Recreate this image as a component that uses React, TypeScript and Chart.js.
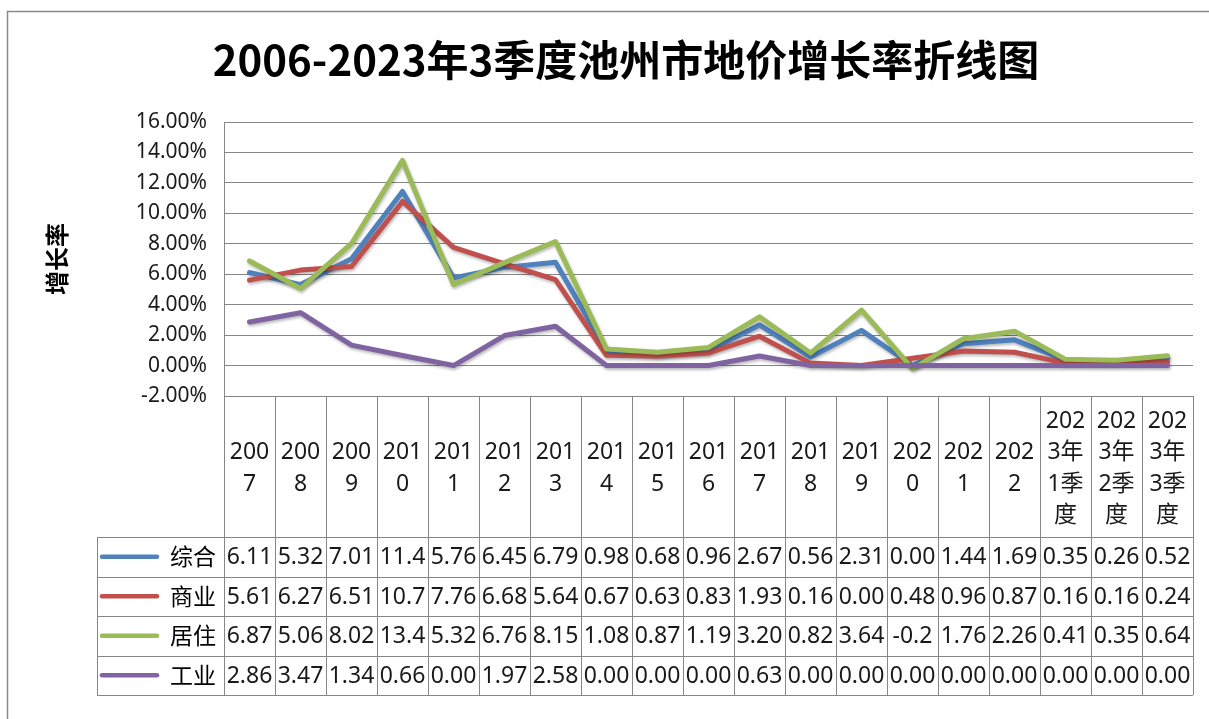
import React, { useEffect, useRef } from "react";
import { Chart, registerables } from "chart.js";

Chart.register(...registerables);

const TITLE = "2006-2023年3季度池州市地价增长率折线图";
const Y_TITLE = "增长率";

const categories = [
  "2007", "2008", "2009", "2010", "2011", "2012", "2013", "2014", "2015", "2016",
  "2017", "2018", "2019", "2020", "2021", "2022",
  "2023年1季度", "2023年2季度", "2023年3季度",
];

const seriesNames = ["综合", "商业", "居住", "工业"];

const zongHe = [6.11, 5.32, 7.01, 11.44, 5.76, 6.45, 6.79, 0.98, 0.68, 0.96, 2.67, 0.56, 2.31, 0.0, 1.44, 1.69, 0.35, 0.26, 0.52];
const shangYe = [5.61, 6.27, 6.51, 10.78, 7.76, 6.68, 5.64, 0.67, 0.63, 0.83, 1.93, 0.16, 0.0, 0.48, 0.96, 0.87, 0.16, 0.16, 0.24];
const juZhu = [6.87, 5.06, 8.02, 13.48, 5.32, 6.76, 8.15, 1.08, 0.87, 1.19, 3.2, 0.82, 3.64, -0.2, 1.76, 2.26, 0.41, 0.35, 0.64];
const gongYe = [2.86, 3.47, 1.34, 0.66, 0.0, 1.97, 2.58, 0.0, 0.0, 0.0, 0.63, 0.0, 0.0, 0.0, 0.0, 0.0, 0.0, 0.0, 0.0];

const seriesValues = [zongHe, shangYe, juZhu, gongYe];
const seriesColors = ["#4F81BD", "#C0504D", "#9BBB59", "#8064A2"];

const yMin = -2;
const yMax = 16;
const yStep = 2;

const LATIN = '"Noto Sans", "Noto Sans CJK SC", sans-serif';
const CJK = '"Noto Sans CJK SC", "Noto Sans", sans-serif';
const GRID = "#868686";

function cellText(v: number): string {
  return v.toFixed(2).slice(0, 4);
}

function wrapText(ctx: CanvasRenderingContext2D, text: string, maxW: number): string[] {
  const lines: string[] = [];
  let cur = "";
  for (const ch of Array.from(text)) {
    if (cur && ctx.measureText(cur + ch).width > maxW) {
      lines.push(cur);
      cur = ch;
    } else {
      cur += ch;
    }
  }
  if (cur) lines.push(cur);
  return lines;
}

const framePlugin = {
  id: "frame",
  beforeDraw(chart: any) {
    const { ctx, width, height } = chart;
    ctx.save();
    ctx.fillStyle = "#ffffff";
    ctx.fillRect(0, 0, width, height);
    ctx.strokeStyle = "#8a8a8a";
    ctx.lineWidth = 1.5;
    ctx.strokeRect(7.5, 11.5, width + 40, height + 40);
    ctx.restore();
  },
  afterDraw(chart: any) {
    const { ctx, chartArea } = chart;
    ctx.save();
    ctx.fillStyle = "#000000";
    ctx.font = `bold 42px ${CJK}`;
    ctx.textAlign = "center";
    ctx.textBaseline = "middle";
    ctx.fillText(TITLE, 626, 60);

    ctx.translate(57, (chartArea.top + chartArea.bottom) / 2);
    ctx.rotate(-Math.PI / 2);
    ctx.font = `bold 24px ${CJK}`;
    ctx.fillText(Y_TITLE, 0, 0);
    ctx.restore();
  },
};

const shadowPlugin = {
  id: "lineShadow",
  beforeDatasetDraw(chart: any) {
    const ctx = chart.ctx;
    ctx.save();
    ctx.shadowColor = "rgba(0,0,0,0.28)";
    ctx.shadowBlur = 3;
    ctx.shadowOffsetX = 1;
    ctx.shadowOffsetY = 2;
  },
  afterDatasetDraw(chart: any) {
    chart.ctx.restore();
  },
};

const tablePlugin = {
  id: "dataTable",
  afterDraw(chart: any) {
    const { ctx, chartArea, scales } = chart;
    const x = scales.x;
    const n = chart.data.labels.length;
    const step = x.getPixelForValue(1) - x.getPixelForValue(0);
    const left = x.getPixelForValue(0) - step / 2;
    const right = left + step * n;
    const top = chartArea.bottom;
    const headerBottom = top + 141;
    const rowH = 39.5;
    const legendLeft = 97;
    const datasets = chart.data.datasets;
    const tableBottom = headerBottom + rowH * datasets.length;

    ctx.save();
    ctx.strokeStyle = GRID;
    ctx.lineWidth = 1;
    ctx.beginPath();
    for (let i = 0; i <= n; i++) {
      const px = Math.round(left + step * i) + 0.5;
      ctx.moveTo(px, top);
      ctx.lineTo(px, tableBottom);
    }
    for (let k = 0; k <= datasets.length; k++) {
      const py = Math.round(headerBottom + rowH * k) + 0.5;
      ctx.moveTo(legendLeft, py);
      ctx.lineTo(right, py);
    }
    ctx.moveTo(legendLeft + 0.5, headerBottom);
    ctx.lineTo(legendLeft + 0.5, tableBottom);
    ctx.stroke();

    ctx.fillStyle = "#1a1a1a";
    ctx.textAlign = "center";
    ctx.textBaseline = "middle";
    ctx.font = `23px ${LATIN}`;
    const lineH = 31.5;
    const headerMid = (top + headerBottom) / 2;
    chart.data.labels.forEach((lab: string, i: number) => {
      const cx = x.getPixelForValue(i);
      const lines = wrapText(ctx, lab, step - 5);
      const y0 = headerMid - ((lines.length - 1) * lineH) / 2 + 2;
      lines.forEach((ln, j) => ctx.fillText(ln, cx, y0 + j * lineH));
    });

    datasets.forEach((ds: any, k: number) => {
      const cy = headerBottom + rowH * (k + 0.5) + 1;
      ds.data.forEach((v: number, i: number) => {
        ctx.fillText(cellText(v), x.getPixelForValue(i), cy);
      });
      ctx.save();
      ctx.strokeStyle = ds.borderColor;
      ctx.lineWidth = 4.5;
      ctx.lineCap = "round";
      ctx.beginPath();
      ctx.moveTo(102, cy - 1);
      ctx.lineTo(157, cy - 1);
      ctx.stroke();
      ctx.restore();
      ctx.font = `23px ${CJK}`;
      ctx.textAlign = "right";
      ctx.fillStyle = "#000000";
      ctx.fillText(ds.label, 216, cy - 1);
      ctx.textAlign = "center";
      ctx.fillStyle = "#1a1a1a";
      ctx.font = `23px ${LATIN}`;
    });
    ctx.restore();
  },
};

export default function App() {
  const ref = useRef<HTMLCanvasElement | null>(null);

  useEffect(() => {
    if (!ref.current) return;
    const chart = new Chart(ref.current, {
      type: "line",
      data: {
        labels: categories,
        datasets: seriesNames.map((name, i) => ({
          label: name,
          data: seriesValues[i],
          borderColor: seriesColors[i],
          backgroundColor: seriesColors[i],
          borderWidth: 5,
          pointRadius: 0,
          pointHoverRadius: 0,
          tension: 0,
          fill: false,
          borderJoinStyle: "round" as const,
          borderCapStyle: "round" as const,
          order: seriesNames.length - 1 - i,
        })),
      },
      options: {
        responsive: false,
        animation: false,
        devicePixelRatio: 1,
        layout: { padding: { left: 124, right: 16, top: 122, bottom: 323 } },
        plugins: {
          legend: { display: false },
          title: { display: false },
          tooltip: { enabled: false },
        },
        scales: {
          x: {
            type: "category",
            display: false,
            offset: true,
          },
          y: {
            min: yMin,
            max: yMax,
            afterFit: (s: any) => {
              s.width = 100;
            },
            ticks: {
              stepSize: yStep,
              padding: 17,
              color: "#1a1a1a",
              font: { family: LATIN, size: 21 },
              callback: (v: any) => Number(v).toFixed(2) + "%",
            },
            grid: { color: GRID, lineWidth: 1, drawTicks: false },
            border: { display: true, color: GRID, width: 1 },
          },
        },
      },
      plugins: [framePlugin, shadowPlugin, tablePlugin],
    });
    return () => chart.destroy();
  }, []);

  return (
    <div style={{ position: "absolute", left: 0, top: 0, width: 1209, height: 719 }}>
      <canvas ref={ref} width={1209} height={719} style={{ width: 1209, height: 719 }} />
    </div>
  );
}
